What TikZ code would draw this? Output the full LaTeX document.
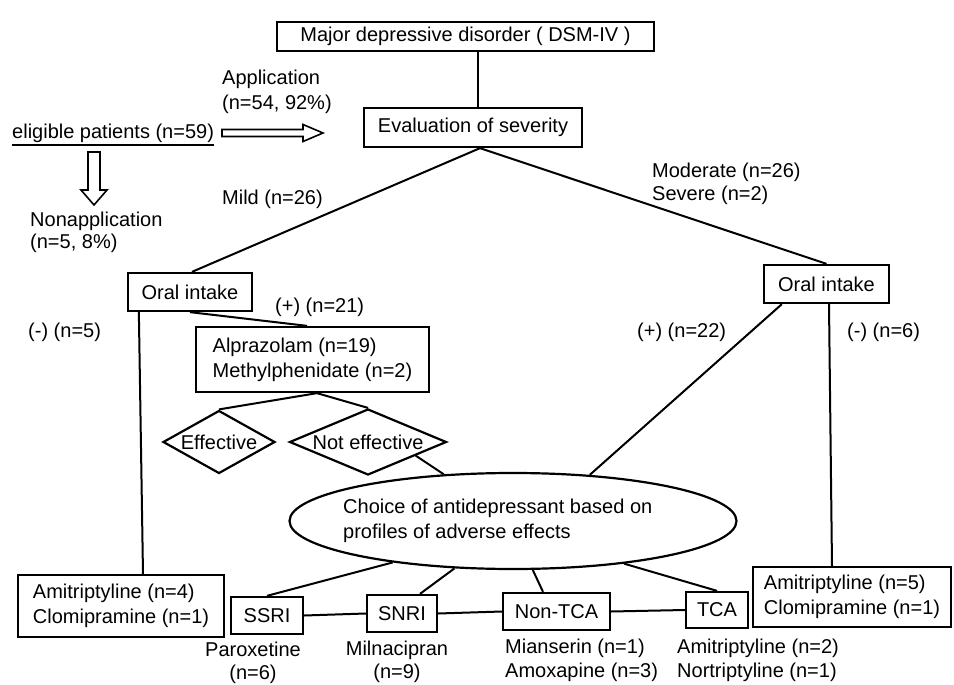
\documentclass[tikz,border=0pt]{standalone}
\usepackage{fontspec}
\setmainfont{Liberation Sans}
\usetikzlibrary{shapes.geometric,calc}
\begin{document}
\begin{tikzpicture}[x=1pt,y=-1pt,
  every node/.style={font=\fontsize{20}{25}\selectfont, inner sep=0pt},
  box/.style={draw, line width=2.3pt, rectangle},
  lbl/.style={anchor=west, align=left},
  conn/.style={line width=2pt},
  dia/.style={draw, line width=2.2pt, diamond},
  hollow/.style={draw, line width=1.6pt, line join=miter}
]
\useasboundingbox (0,0) rectangle (954,685);

% main boxes
\node[box, minimum width=377, minimum height=29] (mdd) at (465.5,36.5) {Major depressive disorder ( DSM-IV )};
\node[box, minimum width=218, minimum height=39] (eval) at (473,127.5) {Evaluation of severity};
\node[box, minimum width=124, minimum height=38] (oil) at (190,292) {Oral intake};
\node[box, minimum width=125, minimum height=38] (oir) at (826.5,284) {Oral intake};
\node[box, minimum width=233, minimum height=65, align=left] (alp) at (312.5,359.5) {Alprazolam (n=19)\\Methylphenidate (n=2)};
\node[dia, minimum width=112, minimum height=63] (eff) at (219,442) {};
\node (efft) at (219,442) {Effective};
\node[dia, minimum width=157, minimum height=66] (ne) at (368,442) {};
\node (net) at (368,442) {Not effective};
\node[draw, line width=2.2pt, ellipse, minimum width=447, minimum height=96] (ch) at (513,521) {};
\node[lbl] (cht) at (343,520.5) {Choice of antidepressant based on\\profiles of adverse effects};
\node[box, minimum width=206, minimum height=62, align=left] (lami) at (121,606) {Amitriptyline (n=4)\\Clomipramine (n=1)};
\node[box, minimum width=198, minimum height=60, align=left] (rami) at (852,597) {Amitriptyline (n=5)\\Clomipramine (n=1)};
\node[box, minimum width=72, minimum height=37] (ssri) at (267,615.5) {SSRI};
\node[box, minimum width=70, minimum height=37] (snri) at (402,613.5) {SNRI};
\node[box, minimum width=107, minimum height=37] (ntca) at (556.5,611.5) {Non-TCA};
\node[box, minimum width=62, minimum height=36] (tca) at (717,610) {TCA};

% labels
\node[lbl] (app) at (222,92) {Application\\(n=54, 92\%)};
\node[lbl] (elig) at (12,133) {eligible patients (n=59)};
\node[lbl] (nonapp) at (30,232) {Nonapplication\\[-3pt](n=5, 8\%)};
\node[lbl] (mild) at (222,199) {Mild (n=26)};
\node[lbl] (mod) at (652,183.5) {Moderate (n=26)\\[-2pt]Severe (n=2)};
\node[lbl] (mn5) at (28,332) {(-) (n=5)};
\node[lbl] (p21) at (275,307) {(+) (n=21)};
\node[lbl] (p22) at (637,332) {(+) (n=22)};
\node[lbl] (mn6) at (847,332) {(-) (n=6)};
\node[align=center] (par) at (253,662.5) {Paroxetine\\[-2pt](n=6)};
\node[align=center] (mil) at (397,662) {Milnacipran\\[-2pt](n=9)};
\node[lbl] (mia) at (505,660) {Mianserin (n=1)\\[-1pt]Amoxapine (n=3)};
\node[lbl] (ami2) at (677,660) {Amitriptyline (n=2)\\[-1pt]Nortriptyline (n=1)};

% underline
\draw[line width=1.5pt] ($(elig.south west)+(0,2.5)$) -- ($(elig.south east)+(0,2.5)$);

% hollow arrows
\coordinate (ra) at (222,133);
\draw[hollow] (ra) ++(0,-3.5) -- ++(81,0) -- ++(0,-5) -- ++(20,8.5) -- ++(-20,8.5) -- ++(0,-5) -- ++(-81,0) -- cycle;
\coordinate (da) at (94,152);
\draw[hollow] (da) ++(-6,0) -- ++(0,38) -- ++(-7,0) -- ++(13,15) -- ++(13,-15) -- ++(-7,0) -- ++(0,-38) -- cycle;

% connectors
\draw[conn] ($(mdd.south)+(12.5,0)$) -- ($(eval.north)+(5,0)$);
\draw[conn] ($(eval.south)+(7,0)$) -- ($(oil.north)+(2,0)$);
\draw[conn] ($(eval.south)+(7,0)$) -- (oir.north);
\draw[conn] ($(oil.south west)+(12,0)$) -- ($(lami.north)+(22,0)$);
\draw[conn] (oil.south) -- ($(alp.north)+(-5.5,0)$);
\draw[conn] ($(alp.south)+(4.5,0)$) -- (eff.north);
\draw[conn] ($(alp.south)+(4.5,0)$) -- (ne.north);
\draw[conn] ($(ne.east)!0.4!(ne.south)$) -- (ch.146.9);
\draw[conn] ($(oir.south west)+(19,0)$) -- (ch.31.1);
\draw[conn] ($(oir.south)+(2.5,0)$) -- ($(rami.north)+(-20,0)$);
\draw[conn] (ch.199.5) -- (ssri.north);
\draw[conn] (ch.219.7) -- ($(snri.north)+(18,0)$);
\draw[conn] (ch.292.7) -- ($(ntca.north)+(-13.5,0)$);
\draw[conn] (ch.339.2) -- (tca.north);
\draw[conn] (ssri.east) -- (snri.west);
\draw[conn] (snri.east) -- (ntca.west);
\draw[conn] (ntca.east) -- (tca.west);
\end{tikzpicture}
\end{document}
